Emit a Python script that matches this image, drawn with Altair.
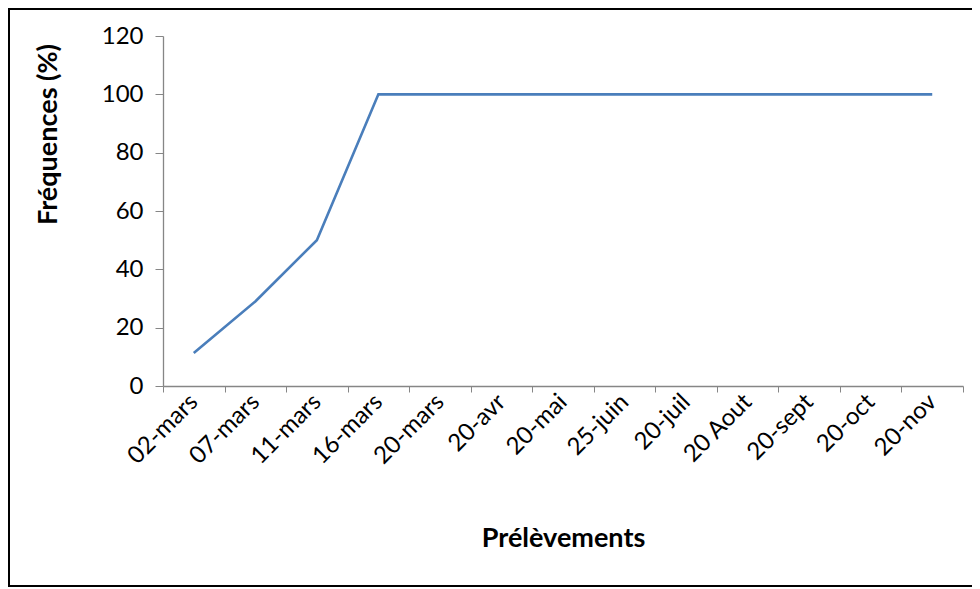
import altair as alt
import pandas as pd

categories = ["02-mars", "07-mars", "11-mars", "16-mars", "20-mars", "20-avr", "20-mai",
              "25-juin", "20-juil", "20 Aout", "20-sept", "20-oct", "20-nov"]
frequences = [11.3, 29, 50, 100, 100, 100, 100, 100, 100, 100, 100, 100, 100]
y_ticks = [0, 20, 40, 60, 80, 100, 120]

df = pd.DataFrame({"cat": categories, "val": frequences})

FONT = "Lato"

line = alt.Chart(df).mark_line(color="#4A7EBB", strokeWidth=2.6, clip=False).encode(
    x=alt.X("cat:N", sort=categories, bandPosition=0.5,
            scale=alt.Scale(type="band", paddingInner=0, paddingOuter=0),
            axis=alt.Axis(title="Prélèvements", labelAngle=-45, labelAlign="right",
                          labelBaseline="middle", labelFontSize=24, labelColor="#000000",
                          labelFont=FONT, labelPadding=6, tickBand="extent", tickSize=6,
                          tickColor="#868686", domainColor="#868686", domainWidth=1.3,
                          titleFont=FONT, titleFontSize=27, titleFontWeight="bold",
                          titleColor="#000000", titleX=400, titleY=152,
                          titleBaseline="middle", titleAnchor="middle")),
    y=alt.Y("val:Q", scale=alt.Scale(domain=[0, 120], nice=False),
            axis=alt.Axis(title="Fréquences (%)", values=y_ticks, grid=False,
                          labelFontSize=24, labelColor="#000000", labelFont=FONT,
                          labelPadding=12, tickSize=8, tickColor="#868686",
                          domainColor="#868686", domainWidth=1.3,
                          titleFont=FONT, titleFontSize=27, titleFontWeight="bold",
                          titleColor="#000000", titleAngle=-90, titleX=-115, titleY=98,
                          titleAlign="center", titleBaseline="middle")),
)

one = pd.DataFrame({"b": [0]})
frame_style = dict(color="#000000", strokeWidth=2, clip=False)
left_edge = alt.Chart(one).mark_rule(**frame_style).encode(
    x=alt.value(-154), y=alt.value(-28), y2=alt.value(551))
top_edge = alt.Chart(one).mark_rule(**frame_style).encode(
    x=alt.value(-155), x2=alt.value(809), y=alt.value(-27))
bottom_edge = alt.Chart(one).mark_rule(**frame_style).encode(
    x=alt.value(-155), x2=alt.value(809), y=alt.value(550))

chart = alt.layer(left_edge, top_edge, bottom_edge, line).properties(
    width=800, height=350,
    background="#ffffff",
    view=alt.ViewBackground(stroke="transparent", strokeWidth=0),
    autosize=alt.AutoSizeParams(type="none"),
    padding={"left": 155, "top": 28, "right": 9, "bottom": 203},
).configure(
    view=alt.ViewConfig(stroke="transparent", strokeWidth=0),
    style={"cell": {"stroke": "transparent", "strokeWidth": 0}},
)

chart.save("out.html", embed_options={"renderer": "svg", "actions": False})
